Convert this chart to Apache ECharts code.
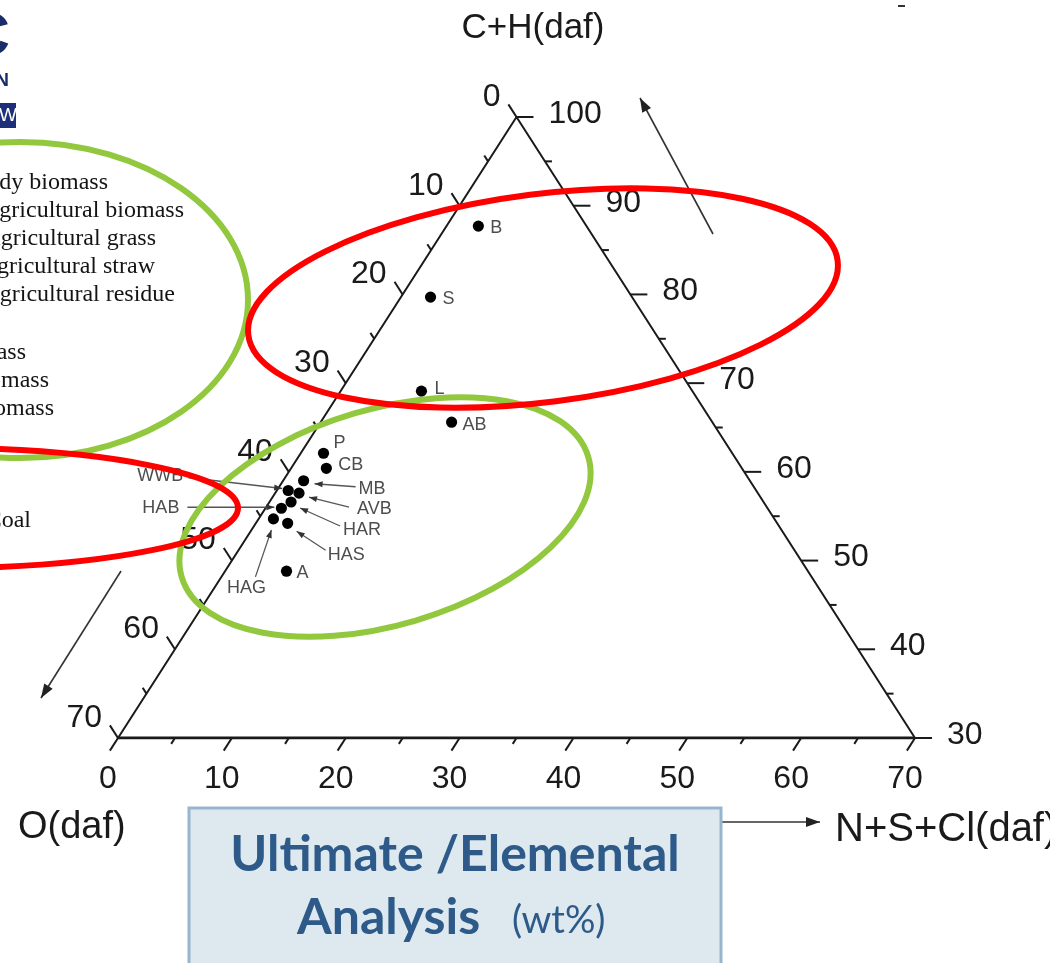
<!DOCTYPE html>
<html>
<head>
<meta charset="utf-8">
<script src="https://cdn.jsdelivr.net/npm/echarts@6/dist/echarts.min.js"></script>
<style>
  html, body { margin: 0; padding: 0; background: #fff; }
  #chart { width: 1050px; height: 963px; }
</style>
</head>
<body>
<div id="chart"></div>
<script>
// samples, wt% daf  (C+H = 100 - O - N+S+Cl)
var sampleNames = ['B', 'S', 'L', 'AB', 'P', 'CB', 'MB', 'AVB', 'HAR', 'HAS', 'HAG', 'WWB', 'HAB', 'A'];
var oxygenVals  = [9.5, 17.7, 23.8, 22.9, 35.9, 36.5, 39.2, 40.3, 41.5, 43.0, 44.0, 41.1, 42.7, 45.8];
var nsclVals    = [2.8, 2.6, 7.1, 11.5, 2.0, 3.1, 1.8, 2.1, 1.9, 2.8, 1.3, 1.0, 1.4, 5.4];

// axis ticks (every 5, labelled every 10)
var oTicks  = [0, 5, 10, 15, 20, 25, 30, 35, 40, 45, 50, 55, 60, 65, 70];
var nTicks  = [0, 5, 10, 15, 20, 25, 30, 35, 40, 45, 50, 55, 60, 65, 70];
var chTicks = [30, 35, 40, 45, 50, 55, 60, 65, 70, 75, 80, 85, 90, 95, 100];

var legendLines = [
  'Woody biomass',
  'Herbaceous and agricultural biomass',
  'Herbaceous and agricultural grass',
  'Herbaceous and agricultural straw',
  'Herbaceous and agricultural residue',
  '',
  'Animal biomass',
  'Mixed biomass',
  'Contaminated biomass'
];

// label placement around the dots (pixels)
var labelLayout = {
  B:   { t: [12, 2] },
  S:   { t: [12, 2] },
  L:   { t: [13, -2] },
  AB:  { t: [11, 3] },
  P:   { t: [10, -10] },
  CB:  { t: [12, -3] },
  MB:  { t: [55, 8], from: [52, 6], to: [11, 3] },
  AVB: { t: [58, 16], from: [50, 14], to: [10, 4] },
  HAR: { t: [52, 28], from: [49, 24], to: [9, 6] },
  HAS: { t: [40, 32], from: [38, 27], to: [9, 8] },
  HAG: { t: [-27, 69], align: 'center', from: [-18, 58], to: [-2, 11] },
  WWB: { t: [-105, -14], align: 'right', from: [-100, -13], to: [-6, -2] },
  HAB: { t: [-102, 0], align: 'right', from: [-94, -1], to: [-7, -1] },
  A:   { t: [10, 2] }
};

var chart = echarts.init(document.getElementById('chart'));

// ternary (O, N+S+Cl) -> plot units, C+H runs 30..100 upwards
function toXY(o, n) {
  var y = 70 - o - n;
  return [n + y / 2, y];
}

function unit(a, b) {
  var dx = b[0] - a[0], dy = b[1] - a[1];
  var l = Math.sqrt(dx * dx + dy * dy);
  return [dx / l, dy / l];
}

function arrowHead(x1, y1, x2, y2, len, w) {
  var u = unit([x1, y1], [x2, y2]);
  var bx = x2 - u[0] * len, by = y2 - u[1] * len;
  return [[x2, y2], [bx - u[1] * w, by + u[0] * w], [bx + u[1] * w, by - u[0] * w]];
}

var sans = '"Liberation Sans", Arial, sans-serif';
var tickFont = '32px ' + sans;

function axisSeries(kind, ticks) {
  return {
    type: 'custom',
    coordinateSystem: 'cartesian2d',
    silent: true,
    z: 3,
    data: ticks.map(function (v) { return [v, 0]; }),
    renderItem: function (params, api) {
      var v = api.value(0);
      var bl = api.coord([0, 0]), br = api.coord([70, 0]), top = api.coord([35, 70]);
      var pt, dir, lab;
      if (kind === 'left') {
        pt = api.coord(toXY(v, 0));
        dir = unit(br, top);
      } else if (kind === 'right') {
        pt = api.coord(toXY(0, 100 - v));
        dir = [1, 0];
      } else {
        pt = api.coord(toXY(70 - v, v));
        dir = unit(top, bl);
      }
      var major = v % 10 === 0;
      var len = major ? (kind === 'right' ? 17 : 15) : 7;
      var kids = [{
        type: 'line',
        shape: { x1: pt[0], y1: pt[1], x2: pt[0] + dir[0] * len, y2: pt[1] + dir[1] * len },
        style: { stroke: '#1a1a1a', lineWidth: 2 }
      }];
      if (major) {
        if (kind === 'left') {
          lab = { x: pt[0] - 16, y: pt[1] - 20, align: 'right' };
        } else if (kind === 'right') {
          lab = { x: pt[0] + 32, y: pt[1] - 3, align: 'left' };
        } else {
          lab = { x: pt[0] - 10, y: pt[1] + 41, align: 'center' };
        }
        kids.push({
          type: 'text',
          style: {
            text: String(v), x: lab.x, y: lab.y, align: lab.align, verticalAlign: 'middle',
            font: tickFont, fill: '#1a1a1a'
          }
        });
      }
      return { type: 'group', children: kids };
    }
  };
}

var pointData = sampleNames.map(function (name, i) {
  return [oxygenVals[i], nsclVals[i], i];
});

var pointSeries = {
  type: 'custom',
  coordinateSystem: 'cartesian2d',
  z: 5,
  data: pointData,
  renderItem: function (params, api) {
    var o = api.value(0), n = api.value(1), idx = api.value(2);
    var name = sampleNames[idx];
    var lay = labelLayout[name];
    var p = api.coord(toXY(o, n));
    var kids = [];
    if (lay.from) {
      var x1 = p[0] + lay.from[0], y1 = p[1] + lay.from[1];
      var x2 = p[0] + lay.to[0], y2 = p[1] + lay.to[1];
      kids.push({
        type: 'line',
        shape: { x1: x1, y1: y1, x2: x2, y2: y2 },
        style: { stroke: '#555', lineWidth: 1.3 }
      });
      kids.push({
        type: 'polygon',
        shape: { points: arrowHead(x1, y1, x2, y2, 8, 3) },
        style: { fill: '#333' }
      });
    }
    kids.push({
      type: 'circle',
      shape: { cx: p[0], cy: p[1], r: 5.6 },
      style: { fill: '#000' }
    });
    kids.push({
      type: 'text',
      style: {
        text: name, x: p[0] + lay.t[0], y: p[1] + lay.t[1],
        align: lay.align || 'left', verticalAlign: 'middle',
        font: '18px ' + sans, fill: '#4d4d4d'
      }
    });
    return { type: 'group', children: kids };
  }
};

var frameLeft = [toXY(70, 0), toXY(0, 0), toXY(0, 70)];
var frameBottom = [toXY(70, 0), toXY(0, 70)];

// decorations drawn over the figure
var graphics = [];

function arrowGraphic(x1, y1, x2, y2) {
  graphics.push({
    type: 'line', z: 50,
    shape: { x1: x1, y1: y1, x2: x2, y2: y2 },
    style: { stroke: '#333', lineWidth: 1.6 }
  });
  graphics.push({
    type: 'polygon', z: 50,
    shape: { points: arrowHead(x1, y1, x2, y2, 14, 5) },
    style: { fill: '#222' }
  });
}
arrowGraphic(713, 234, 640, 98);
arrowGraphic(121, 571, 41, 698);
arrowGraphic(700, 822, 820, 822);

var serif = '24px "Liberation Serif", "Times New Roman", serif';
var legendEnds = [108, 184, 156, 155, 175, 0, 26, 49, 54];
var legendYs = [183, 211, 239, 267, 295, 0, 353, 381, 409];
legendLines.forEach(function (txt, i) {
  if (!txt) return;
  graphics.push({
    type: 'text', z: 20,
    style: {
      text: txt, x: legendEnds[i], y: legendYs[i], align: 'right', verticalAlign: 'middle',
      font: serif, fill: '#141414'
    }
  });
});
graphics.push({
  type: 'text', z: 20,
  style: {
    text: 'Coal', x: 31, y: 521, align: 'right', verticalAlign: 'middle',
    font: serif, fill: '#141414'
  }
});

// ellipses
graphics.push({
  type: 'ellipse', z: 60, x: 20, y: 300,
  shape: { cx: 0, cy: 0, rx: 228, ry: 158 },
  style: { fill: 'none', stroke: '#92C83E', lineWidth: 6 }
});
graphics.push({
  type: 'ellipse', z: 60, x: 385, y: 517, rotation: 16.5 * Math.PI / 180,
  shape: { cx: 0, cy: 0, rx: 212, ry: 108 },
  style: { fill: 'none', stroke: '#92C83E', lineWidth: 6 }
});
graphics.push({
  type: 'ellipse', z: 61, x: 543, y: 298, rotation: 7.2 * Math.PI / 180,
  shape: { cx: 0, cy: 0, rx: 297, ry: 104 },
  style: { fill: 'none', stroke: '#FF0000', lineWidth: 6 }
});
graphics.push({
  type: 'ellipse', z: 61, x: -60, y: 508,
  shape: { cx: 0, cy: 0, rx: 298, ry: 60 },
  style: { fill: 'none', stroke: '#FF0000', lineWidth: 6 }
});

// axis titles
graphics.push({
  type: 'text', z: 20,
  style: { text: 'C+H(daf)', x: 533, y: 28, align: 'center', verticalAlign: 'middle',
    font: '35px ' + sans, fill: '#1a1a1a' }
});
graphics.push({
  type: 'text', z: 20,
  style: { text: 'O(daf)', x: 18, y: 828, align: 'left', verticalAlign: 'middle',
    font: '38px ' + sans, fill: '#1a1a1a' }
});
graphics.push({
  type: 'text', z: 20,
  style: { text: 'N+S+Cl(daf)', x: 835, y: 830, align: 'left', verticalAlign: 'middle',
    font: '40px ' + sans, fill: '#1a1a1a' }
});

// logo fragment, top-left
graphics.push({
  type: 'text', z: 20,
  style: { text: 'C', x: 10, y: 38, align: 'right', verticalAlign: 'middle',
    font: 'bold 62px ' + sans, fill: '#1b2c6b' }
});
graphics.push({
  type: 'text', z: 20,
  style: { text: 'N', x: 9, y: 81, align: 'right', verticalAlign: 'middle',
    font: 'bold 19px ' + sans, fill: '#1b2c6b' }
});
graphics.push({
  type: 'rect', z: 20,
  shape: { x: -5, y: 103, width: 21, height: 25 },
  style: { fill: '#1d2f78' }
});
graphics.push({
  type: 'text', z: 21,
  style: { text: 'W', x: 17, y: 116, align: 'right', verticalAlign: 'middle',
    font: '19px ' + sans, fill: '#fff' }
});
graphics.push({
  type: 'line', z: 20,
  shape: { x1: 898, y1: 6, x2: 905, y2: 6 },
  style: { stroke: '#333', lineWidth: 2 }
});

// caption box
var capFont = 'Lato, "Open Sans", sans-serif';
graphics.push({
  type: 'rect', z: 70,
  shape: { x: 189, y: 808, width: 532, height: 170 },
  style: { fill: '#dde8ef', stroke: '#99b5cd', lineWidth: 3 }
});
graphics.push({
  type: 'text', z: 71,
  style: { text: 'Ultimate /Elemental', x: 455, y: 855, align: 'center', verticalAlign: 'middle',
    font: 'bold 50px ' + capFont, fill: '#2d5a88' }
});
graphics.push({
  type: 'text', z: 71,
  style: { text: 'Analysis', x: 297, y: 918, align: 'left', verticalAlign: 'middle',
    font: 'bold 50px ' + capFont, fill: '#2d5a88' }
});
graphics.push({
  type: 'text', z: 71,
  style: { text: '(wt%)', x: 512, y: 921, align: 'left', verticalAlign: 'middle',
    font: '38px ' + capFont, fill: '#2d5a88' }
});

chart.setOption({
  animation: false,
  backgroundColor: '#fff',
  grid: { left: 118, top: 117, width: 797, height: 621 },
  xAxis: { type: 'value', min: 0, max: 70, show: false },
  yAxis: { type: 'value', min: 0, max: 70, show: false },
  series: [
    {
      type: 'line', data: frameLeft, symbol: 'none', silent: true, z: 2,
      lineStyle: { color: '#1a1a1a', width: 2 }
    },
    {
      type: 'line', data: frameBottom, symbol: 'none', silent: true, z: 2,
      lineStyle: { color: '#1a1a1a', width: 3 }
    },
    axisSeries('left', oTicks),
    axisSeries('right', chTicks),
    axisSeries('bottom', nTicks),
    pointSeries
  ],
  graphic: graphics
});
</script>
</body>
</html>
